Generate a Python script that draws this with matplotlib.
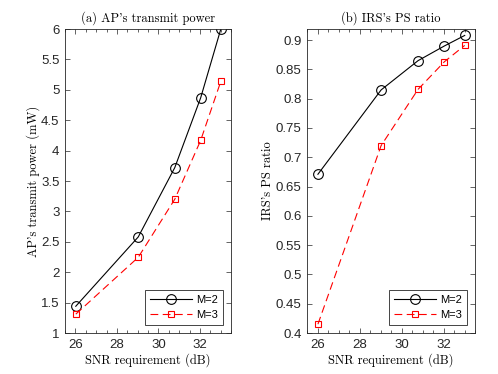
import numpy as np
import matplotlib
matplotlib.use("Agg")
import matplotlib.pyplot as plt
from matplotlib.ticker import MultipleLocator

snr = [26.02, 29.03, 30.79, 32.04, 33.01]
power_m2 = [1.44, 2.58, 3.72, 4.87, 6.00]
power_m3 = [1.31, 2.245, 3.20, 4.17, 5.14]
ps_m2 = [0.671, 0.815, 0.865, 0.890, 0.908]
ps_m3 = [0.415, 0.720, 0.816, 0.863, 0.891]
labels = ["M=2", "M=3"]
x_ticks = [26, 28, 30, 32]
y_ticks_a = [1, 1.5, 2, 2.5, 3, 3.5, 4, 4.5, 5, 5.5, 6]
y_ticks_b = [0.4, 0.45, 0.5, 0.55, 0.6, 0.65, 0.7, 0.75, 0.8, 0.85, 0.9]

serif = "cmr10"
sans = "Liberation Sans"
plt.rcParams["axes.formatter.use_mathtext"] = True

fig = plt.figure(figsize=(4.98, 3.74), dpi=100)
ax1 = fig.add_axes([65/498, 1-333/374, 166/498, 304/374])
ax2 = fig.add_axes([307/498, 1-333/374, 168/498, 304/374])

def style(ax, yt, ylim):
    ax.set_xlim(25.5, 33.5)
    ax.set_ylim(*ylim)
    ax.set_xticks(x_ticks)
    ax.set_yticks(yt)
    ax.set_xticklabels([str(v) for v in x_ticks], fontfamily=sans, fontsize=9.5)
    ax.set_yticklabels([f"{v:g}" for v in yt], fontfamily=sans, fontsize=9.5)
    ax.xaxis.set_minor_locator(MultipleLocator(0.5))
    ax.tick_params(which="both", direction="in", top=True, right=True, colors="#262626", labelcolor="#262626")
    ax.tick_params(which="major", length=3.5, width=0.5, pad=4)
    ax.tick_params(which="minor", length=2, width=0.5)
    for s in ax.spines.values():
        s.set_linewidth(0.6)
        s.set_color("#262626")

for ax, a, b, yt, ylim, title, ylab in [
    (ax1, power_m2, power_m3, y_ticks_a, (1, 6), "(a) AP's transmit power", "AP's transmit power (mW)"),
    (ax2, ps_m2, ps_m3, y_ticks_b, (0.4, 0.919), "(b) IRS's PS ratio", "IRS's PS ratio"),
]:
    ax.plot(snr, a, color="black", lw=0.8, marker="o", ms=7, mfc="none", mew=0.8, label=labels[0])
    ax.plot(snr, b, color="#ff0000", lw=0.8, ls=(0, (7, 4)), marker="s", ms=5, mfc="none", mew=0.8, label=labels[1])
    style(ax, yt, ylim)
    ax.set_title(title, fontfamily=serif, fontsize=9, pad=5)
    ax.set_xlabel("SNR requirement (dB)", fontfamily=serif, fontsize=9, labelpad=2)
    ax.set_ylabel(ylab, fontfamily=serif, fontsize=9, labelpad=1)
    leg = ax.legend(loc="lower right", prop={"family": sans, "size": 8}, fancybox=False,
                    edgecolor="#262626", framealpha=1, handlelength=3.8, borderpad=0.45,
                    labelspacing=0.45, handletextpad=0.4, borderaxespad=0.7)
    leg.get_frame().set_linewidth(0.6)

fig.savefig("out.png", dpi=100)
